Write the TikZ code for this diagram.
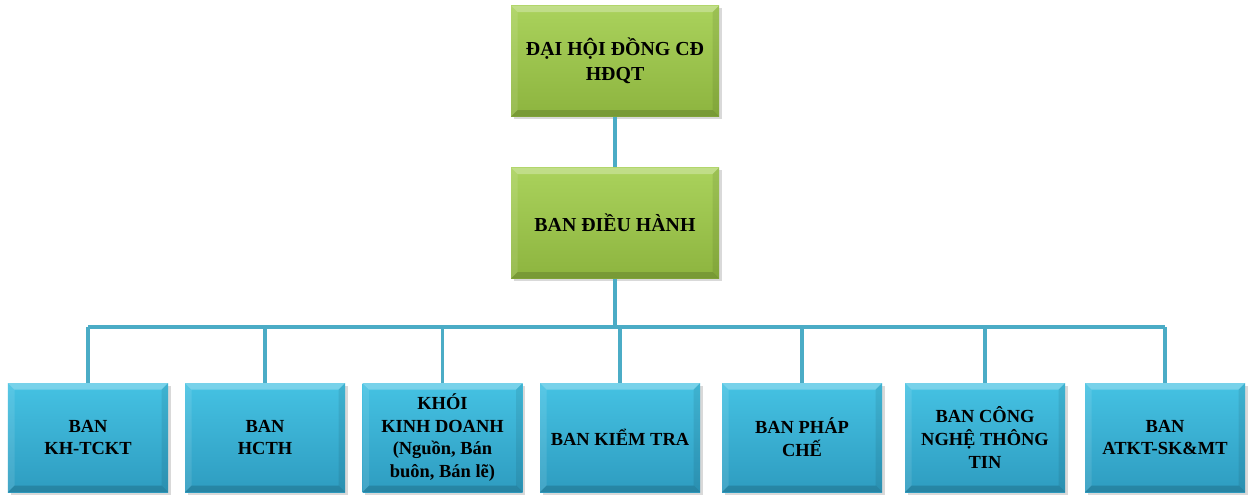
\documentclass[tikz,border=0pt]{standalone}
\usepackage{fontspec}
\setmainfont{Liberation Serif}
\usepackage{xcolor}
\usepackage{tikz}
\usetikzlibrary{positioning, shadows, arrows.meta}

\definecolor{greenTop}{HTML}{AAD25C}
\definecolor{greenBot}{HTML}{8DB43F}
\definecolor{blueTop}{HTML}{45C2E3}
\definecolor{blueBot}{HTML}{2E9CC0}
\definecolor{lineBlue}{HTML}{4BACC6}

\begin{document}
\begin{tikzpicture}[
    % GLOBAL CFG
    font=\fontsize{10.5}{13}\selectfont\bfseries,
    % Styles
    bevel/.style={% Raised edges of a box
        path picture={
            \coordinate (nw) at (path picture bounding box.north west);
            \coordinate (ne) at (path picture bounding box.north east);
            \coordinate (sw) at (path picture bounding box.south west);
            \coordinate (se) at (path picture bounding box.south east);
            \fill[white, opacity=.28] (nw) -- (ne) -- ([shift={(-0.13,-0.13)}]ne) -- ([shift={(0.13,-0.13)}]nw) -- cycle;
            \fill[white, opacity=.10] (nw) -- ([shift={(0.13,-0.13)}]nw) -- ([shift={(0.13,0.13)}]sw) -- (sw) -- cycle;
            \fill[black, opacity=.08] (ne) -- (se) -- ([shift={(-0.13,0.13)}]se) -- ([shift={(-0.13,-0.13)}]ne) -- cycle;
            \fill[black, opacity=.15] (sw) -- (se) -- ([shift={(-0.13,0.13)}]se) -- ([shift={(0.13,0.13)}]sw) -- cycle;
            },
        },
    board/.style={% For the two green boxes on top
        rectangle,
        bevel,
        top color=greenTop,
        bottom color=greenBot,
        minimum width=4.16cm,
        minimum height=2.22cm,
        align=center,
        font=\fontsize{11.3}{14}\selectfont\bfseries,
        drop shadow={opacity=.3, shadow xshift=.05cm, shadow yshift=-.05cm},
        },
    dept/.style={% For the blue boxes in the bottom row
        rectangle,
        bevel,
        top color=blueTop,
        bottom color=blueBot,
        minimum width=3.2cm,
        minimum height=2.18cm,
        align=center,
        drop shadow={opacity=.3, shadow xshift=.05cm, shadow yshift=-.05cm},
        },
    link/.style={% Connectors
        draw=lineBlue,
        line width=2.2pt,
        },
    ]

    \useasboundingbox (0,0) rectangle (25,-9.9);

    % Top of the tree
    \node [board] (dhcd) at (12.3,-1.22) {ĐẠI HỘI ĐỒNG CĐ\\HĐQT};
    \node [board] (bdh) at (12.3,-4.46) {BAN ĐIỀU HÀNH};

    % Bottom row
    \node [dept] (kh) at (1.76,-8.75) {BAN\\KH-TCKT};
    \node [dept] (hc) at (5.3,-8.75) {BAN\\HCTH};
    \node [dept] (kd) at (8.85,-8.75) {KHÓI\\KINH DOANH\\(Nguồn, Bán\\buôn, Bán lẽ)};
    \node [dept] (kt) at (12.4,-8.75) {BAN KIỂM TRA};
    \node [dept] (pc) at (16.04,-8.75) {BAN PHÁP\\CHẾ};
    \node [dept] (it) at (19.7,-8.75) {BAN CÔNG\\NGHỆ THÔNG\\TIN};
    \node [dept] (at) at (23.3,-8.75) {BAN\\ATKT-SK\&MT};

    % Connectors
    \coordinate (bus) at (12.3,-6.54);
    \draw [link] (dhcd) -- (bdh);
    \draw [link] (bdh) -- (bus);
    \draw [link] (kh.north |- bus) -- (at.north |- bus);
    \foreach \d in {kh,hc,kd,kt,pc,it,at}
        \draw [link] (\d.north |- bus) -- (\d.north);

\end{tikzpicture}
\end{document}
